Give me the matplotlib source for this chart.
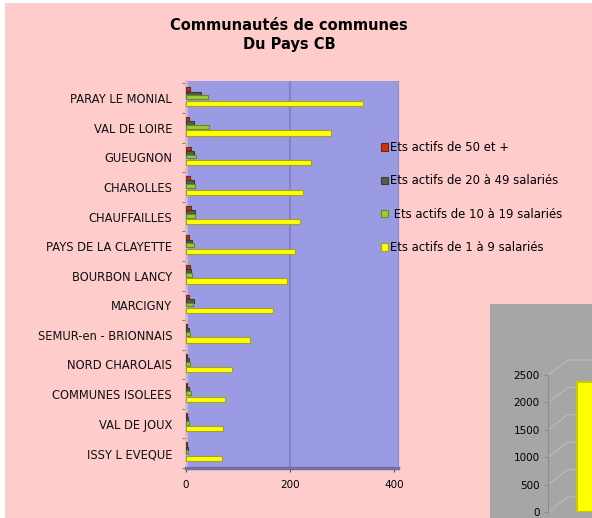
import matplotlib.pyplot as plt
import numpy as np
from matplotlib.patches import Rectangle

# communes, listed top to bottom
communes = ["PARAY LE MONIAL", "VAL DE LOIRE", "GUEUGNON", "CHAROLLES",
            "CHAUFFAILLES", "PAYS DE LA CLAYETTE", "BOURBON LANCY", "MARCIGNY",
            "SEMUR-en - BRIONNAIS", "NORD CHAROLAIS", "COMMUNES ISOLEES",
            "VAL DE JOUX", "ISSY L EVEQUE"]

ets_50_plus = [8, 6, 10, 8, 10, 6, 8, 6, 2, 2, 2, 1, 1]
ets_20_49 = [28, 16, 15, 15, 18, 12, 9, 15, 5, 5, 5, 4, 4]
ets_10_19 = [42, 45, 20, 18, 18, 16, 12, 14, 8, 8, 10, 6, 4]
ets_1_9 = [340, 280, 240, 225, 220, 210, 195, 168, 124, 88, 75, 72, 69]

labels = ["Ets actifs de 50 et +", "Ets actifs de 20 à 49 salariés",
          " Ets actifs de 10 à 19 salariés", "Ets actifs de 1 à 9 salariés"]

# second chart, only partly visible
total_1_9 = [2380]

pink = '#ffcccc'
fig = plt.figure(figsize=(5.92, 5.18), dpi=100, facecolor='white')
fig.add_artist(Rectangle((5/592, 0), 1, 1 - 3/518, transform=fig.transFigure,
                         facecolor=pink, edgecolor='none', zorder=-10))

fig.text(289/592, 1 - 35/518, "Communautés de communes\nDu Pays CB",
         ha='center', va='center', fontsize=10.5, fontweight='bold',
         linespacing=1.35)

# main horizontal bar chart
ax = fig.add_axes([186/592, 50/518, 212/592, 387/518])
ax.set_facecolor('#9b9be3')
y = np.arange(len(communes))[::-1]

series = [(ets_50_plus, '#cc3300', '#6a2a10', 0.30, 0.13),
          (ets_20_49, '#5a5a4a', '#3a3a30', 0.16, 0.13),
          (ets_10_19, '#99cc33', '#668822', 0.03, 0.13),
          (ets_1_9, '#ffff00', '#a0a030', -0.175, 0.18)]
bars = []
for vals, fc, ec, off, h in series:
    b = ax.barh(y + off, vals, height=h, color=fc, edgecolor=ec, linewidth=0.8, zorder=3)
    bars.append(b)

ax.axvline(200, color='#8383c6', lw=1.5, zorder=1)
ax.set_xlim(0, 408)
ax.set_ylim(-0.5, 12.5 + 2.5/29.6)
ax.set_xticks([0, 200, 400])
ax.tick_params(axis='x', labelsize=7.5, length=3, color='#555555', pad=6)
ax.set_yticks(y)
ax.set_yticklabels(communes, fontsize=8.3, color='#111111')
ax.set_yticks(np.arange(-0.5, 12.6, 1), minor=True)
ax.tick_params(axis='y', which='major', length=0, pad=10)
ax.tick_params(axis='y', which='minor', length=3, color='#666666')

ax.spines['top'].set_visible(False)
ax.spines['right'].set_color('#8a8ad0')
ax.spines['left'].set_color('#d8b8c8')
ax.spines['left'].set_linewidth(2)
ax.spines['bottom'].set_color('#7070a8')
ax.spines['bottom'].set_linewidth(2.5)

fig.legend(bars, labels, loc='upper left', bbox_to_anchor=(381/592, 1 - 141/518),
           frameon=False, fontsize=8.4, handlelength=0.6, handleheight=0.6,
           handletextpad=0.2, labelspacing=1.75, borderpad=0, borderaxespad=0)

# partial second chart in the corner
fig.add_artist(Rectangle((490/592, 0), 1, (518 - 304)/518, transform=fig.transFigure,
                         facecolor='#a6a6a6', edgecolor='none', zorder=-5))
ax2 = fig.add_axes([548/592, 6/518, 60/592, 137/518])
ax2.set_facecolor('none')
ax2.set_xlim(0, 1)
ax2.set_ylim(0, 2500)
ticks = np.arange(0, 2501, 500)
for v in ticks:
    ax2.plot([0, 0.33, 1.2], [v, v + 274, v + 274], color='#bcbcbc', lw=0.8,
             clip_on=False, zorder=1)
ax2.bar([0.48], total_1_9, width=1.0, align='edge', bottom=0,
        color='#ffff00', edgecolor='#c8c800', linewidth=1.5, zorder=3)
ax2.set_yticks(ticks)
ax2.set_xticks([])
ax2.tick_params(axis='y', labelsize=7.5, length=3, color='#8c8c8c', pad=3)
for s in ['top', 'right', 'bottom']:
    ax2.spines[s].set_visible(False)
ax2.spines['left'].set_color('#8c8c8c')

fig.savefig('out.png', dpi=100, facecolor=fig.get_facecolor())
